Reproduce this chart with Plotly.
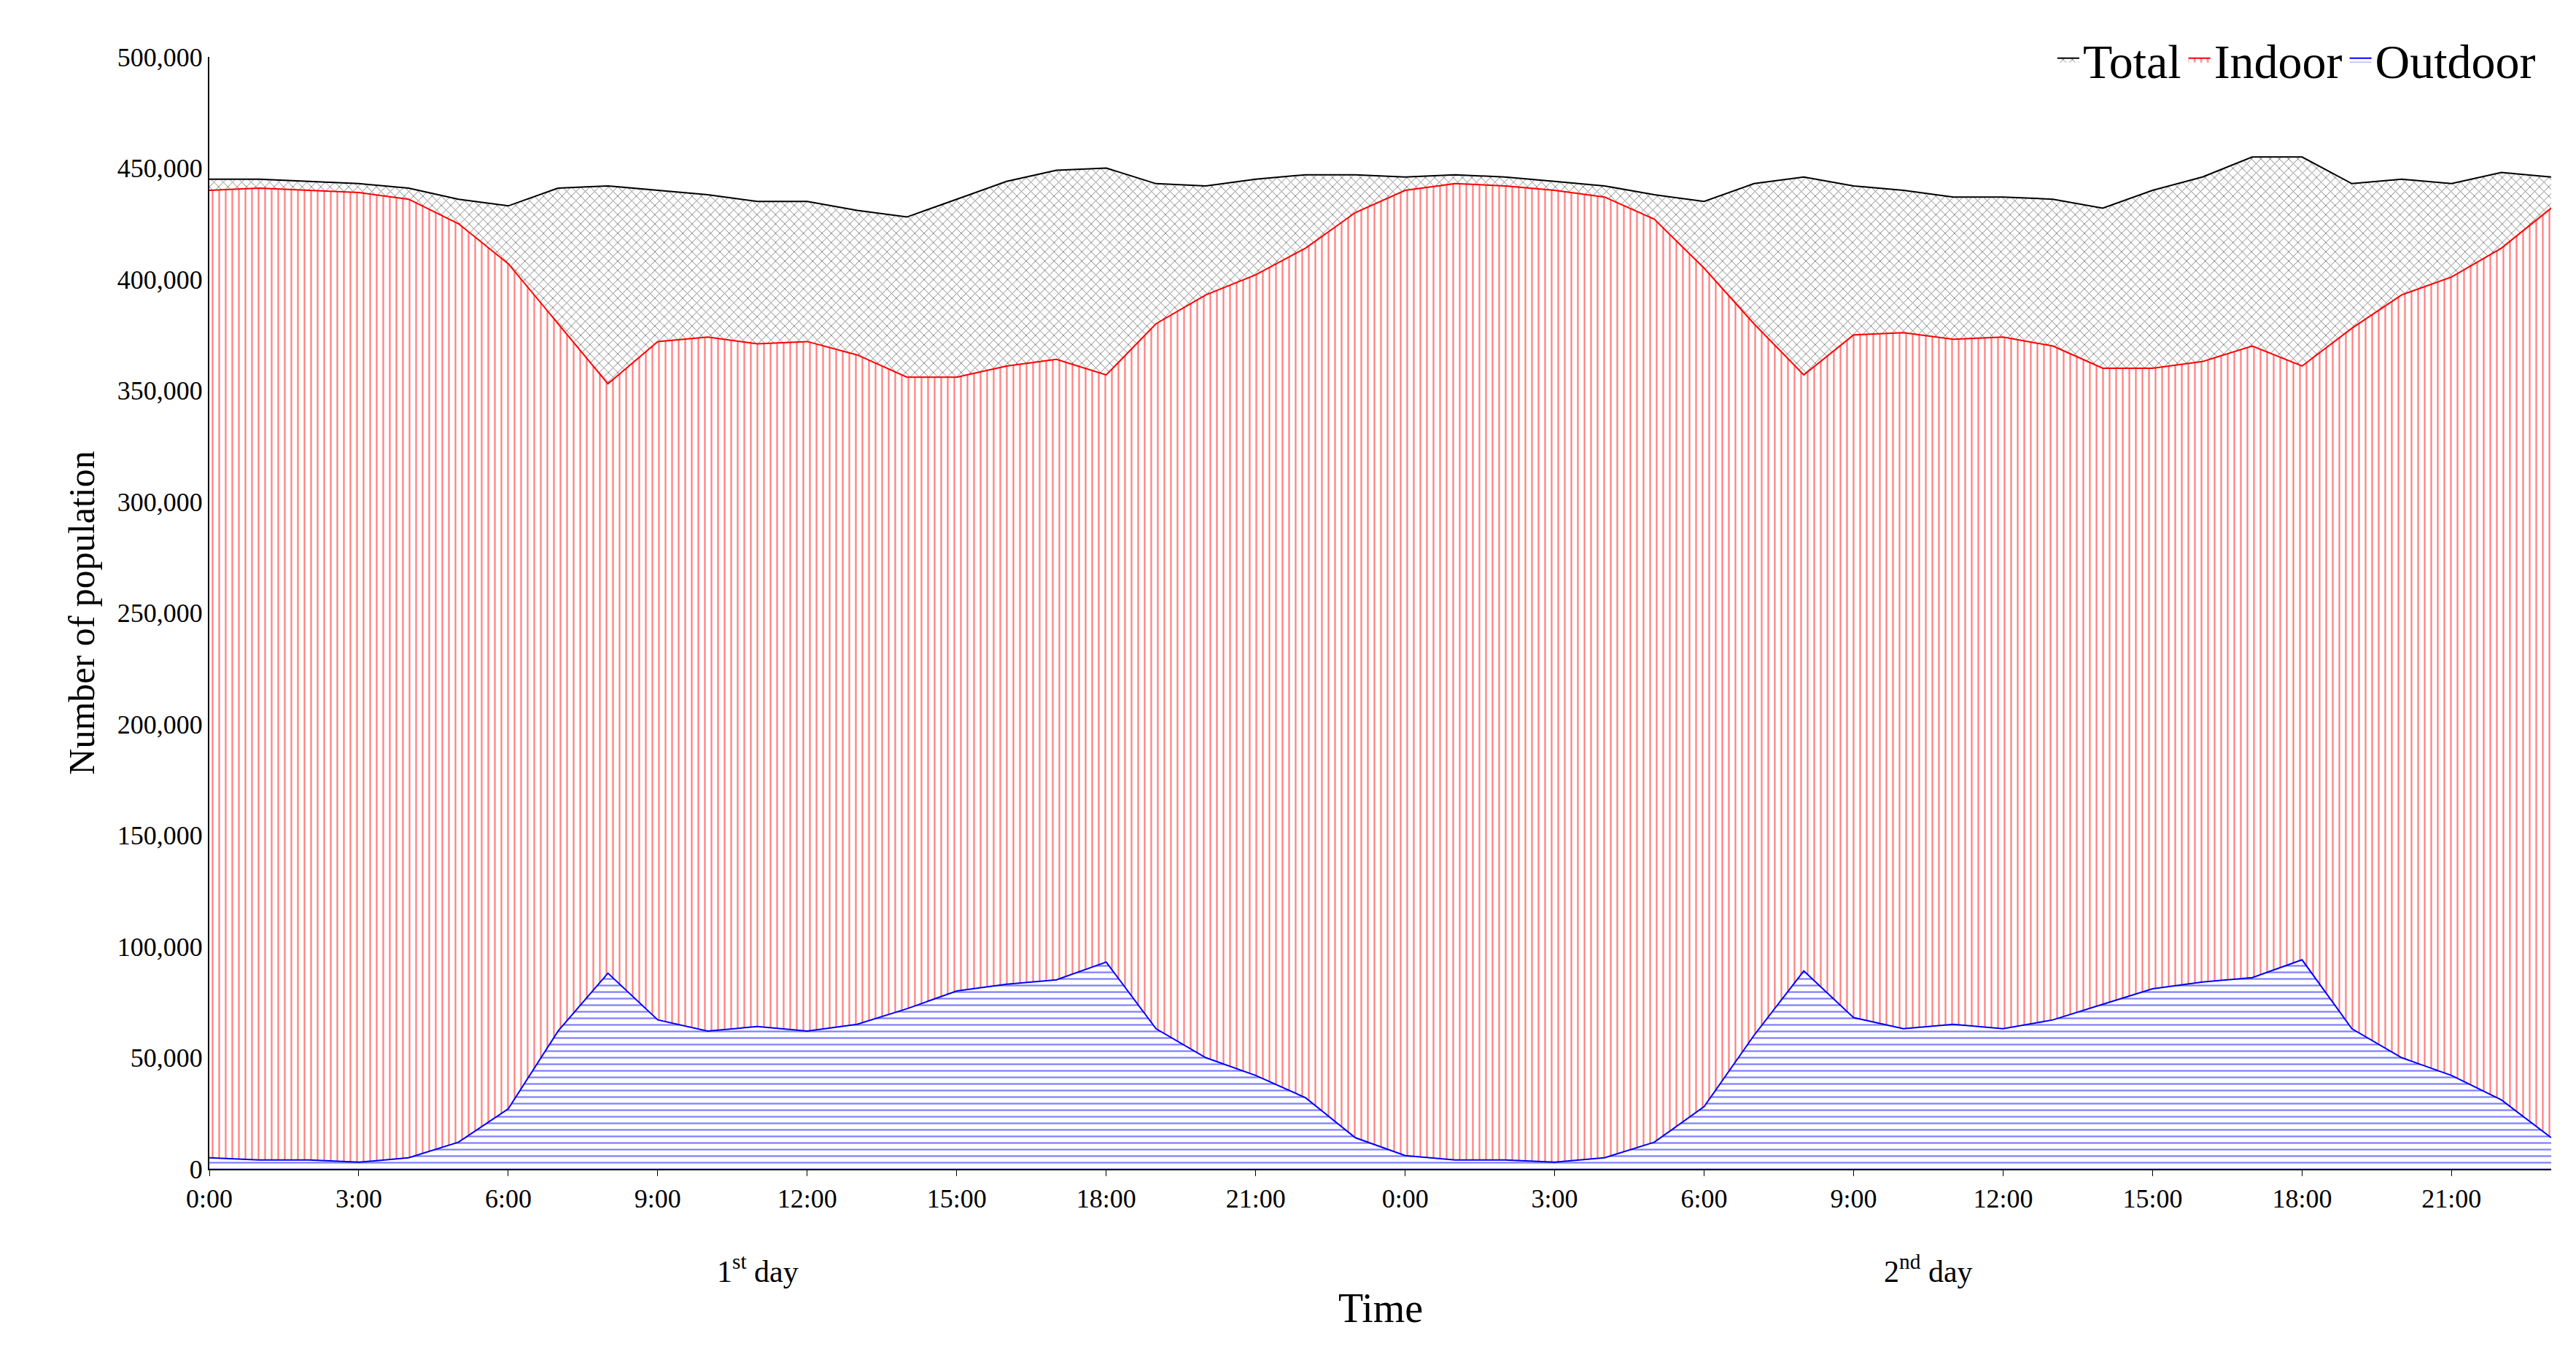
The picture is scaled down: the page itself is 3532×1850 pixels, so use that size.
import plotly.graph_objects as go

hours = list(range(48))
tick_vals = list(range(0, 48, 3))
tick_text = ["0:00","3:00","6:00","9:00","12:00","15:00","18:00","21:00"]*2

total = [445,445,444,443,441,436,433,441,442,440,438,435,435,431,428,436,444,449,450,443,442,445,447,447,
         446,447,446,444,442,438,435,443,446,442,440,437,437,436,432,440,446,455,455,443,445,443,448,446]
indoor = [440,441,440,439,436,425,407,380,353,372,374,371,372,366,356,356,361,364,357,380,393,402,414,430,
          440,443,442,440,437,427,405,380,357,375,376,373,374,370,360,360,363,370,361,378,393,401,414,432]
outdoor = [5,4,4,3,5,12,27,62,88,67,62,64,62,65,72,80,83,85,93,63,50,42,32,14,
           6,4,4,3,5,12,28,60,89,68,63,65,63,67,74,81,84,86,94,63,50,42,31,14]
total = [v*1000 for v in total]
indoor = [v*1000 for v in indoor]
outdoor = [v*1000 for v in outdoor]

F = "Liberation Serif"
fig = go.Figure()
def add(name, y, color, shape, sol):
    fig.add_trace(go.Scatter(x=hours, y=y, name=name, mode="lines", fill="tozeroy",
        line=dict(color=color, width=2),
        fillcolor="white",
        fillpattern=dict(shape=shape, fgcolor=color, bgcolor="white", size=9, solidity=sol)))
add("Total", total, "black", "x", 0.2)
add("Indoor", indoor, "red", "|", 0.25)
add("Outdoor", outdoor, "blue", "-", 0.25)

fig.update_layout(
    width=3532, height=1850, plot_bgcolor="white", paper_bgcolor="white",
    margin=dict(l=279, r=42, t=70, b=255),
    font=dict(family=F, size=36, color="black"),
    legend=dict(orientation="h", x=0.995, xanchor="right", y=1.03, yanchor="top",
                font=dict(size=66, family=F), bgcolor="rgba(0,0,0,0)"),
    xaxis=dict(range=[0,47], tickmode="array", tickvals=tick_vals, ticktext=tick_text,
               showline=True, linecolor="black", linewidth=2, ticks="outside",
               ticklen=8, tickcolor="black", showgrid=False, zeroline=False,
               tickfont=dict(size=36, family=F)),
    yaxis=dict(range=[0,500000], dtick=50000, tickformat=",", showline=True,
               linecolor="black", linewidth=2, showgrid=False, zeroline=False,
               title=dict(text="Number of population", font=dict(size=50, family=F)),
               tickfont=dict(size=36, family=F)),
)
fig.add_annotation(text="Time", x=0.5, xref="paper", y=-0.125, yref="paper", yanchor="middle",
                   showarrow=False, font=dict(size=56, family=F))
fig.add_annotation(text="1<sup>st</sup> day", x=11, xref="x", y=-0.09, yref="paper", yanchor="middle",
                   showarrow=False, font=dict(size=42, family=F))
fig.add_annotation(text="2<sup>nd</sup> day", x=34.5, xref="x", y=-0.09, yref="paper", yanchor="middle",
                   showarrow=False, font=dict(size=42, family=F))
fig.write_html("out.html")
